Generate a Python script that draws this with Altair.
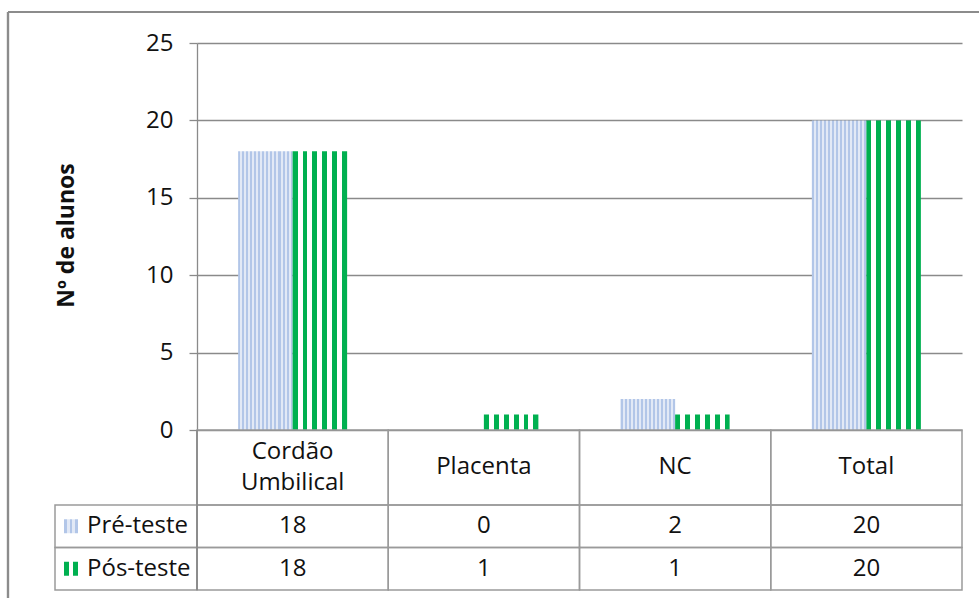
import altair as alt
import pandas as pd

categories = ["Cordão Umbilical", "Placenta", "NC", "Total"]
series = ["Pré-teste", "Pós-teste"]
pre_values = [18, 0, 2, 20]
post_values = [18, 1, 1, 20]
y_ticks = [0, 5, 10, 15, 20, 25]

rows = []
for c, a, b in zip(categories, pre_values, post_values):
    rows.append({"category": c, "series": series[0], "value": a})
    rows.append({"category": c, "series": series[1], "value": b})
df = pd.DataFrame(rows)
df_cat = pd.DataFrame({"category": categories})
df_ser = pd.DataFrame({"series": series})

FONT = "Open Sans"
FS = 24
TXT = "#111111"
GRID = "#8a8a8a"
TAB = "#9a9a9a"


def stripes(c1, c2, n):
    stops = []
    for i in range(n):
        c = c1 if i % 2 == 0 else c2
        stops.append({"offset": i / n, "color": c})
        stops.append({"offset": (i + 1) / n, "color": c})
    return {"gradient": "linear", "x1": 0, "y1": 0, "x2": 1, "y2": 0, "stops": stops}


pre_fill = stripes("#b2c6e8", "#e2e9f6", 27)
post_fill = stripes("#00b050", "#ffffff", 11)
pre_sym = stripes("#b2c6e8", "#e2e9f6", 5)
post_sym = stripes("#00b050", "#ffffff", 3)

x_bar = alt.X("category:N", sort=categories,
              scale=alt.Scale(domain=categories, paddingInner=0.43, paddingOuter=0.215),
              axis=None)
x_off = alt.XOffset("series:N", sort=series,
                    scale=alt.Scale(domain=series, paddingInner=0, paddingOuter=0))
y_bar = alt.Y("value:Q", scale=alt.Scale(domain=[0, 25], range=[387, 0], nice=False),
              axis=alt.Axis(values=y_ticks, grid=True, gridColor=GRID, gridWidth=1.3,
                            domainColor=GRID, domainWidth=1.3, tickColor=GRID, tickWidth=1.3,
                            tickSize=8, labelPadding=16, labelFont=FONT, labelFontSize=FS,
                            labelColor=TXT, title="Nº de alunos", titleFont=FONT,
                            titleFontSize=23, titleFontWeight="bold", titleColor=TXT,
                            titleAngle=270, titleAlign="center", titleBaseline="middle",
                            titleX=-131, titleY=192))

base = alt.Chart(df)
bars_pre = base.transform_filter(alt.datum.series == series[0]).mark_bar(fill=pre_fill).encode(
    x=x_bar, xOffset=x_off, y=y_bar)
bars_post = base.transform_filter(alt.datum.series == series[1]).mark_bar(fill=post_fill).encode(
    x=x_bar, xOffset=x_off,
    y=alt.Y("value:Q", scale=alt.Scale(domain=[0, 25], range=[387, 0], nice=False), axis=None))

x_tab = alt.X("category:N", sort=categories,
              scale=alt.Scale(domain=categories, paddingInner=0, paddingOuter=0), axis=None)
y_tab = alt.Y("series:N", sort=series,
              scale=alt.Scale(domain=series, range=[462, 547], paddingInner=0, paddingOuter=0),
              axis=None)

header_cells = alt.Chart(df_cat).mark_rect(fill="transparent", stroke=TAB, strokeWidth=1.5).encode(
    x=x_tab, y=alt.value(387), y2=alt.value(462))
header_text1 = alt.Chart(df_cat).transform_filter(
    "indexof(datum.category, ' ') < 0").mark_text(
    font=FONT, fontSize=FS, color=TXT, baseline="middle").encode(
    x=x_tab, y=alt.value(424), text="category:N")
header_text2 = alt.Chart(df_cat).transform_filter(
    "indexof(datum.category, ' ') >= 0").mark_text(
    font=FONT, fontSize=FS, color=TXT, lineBreak=" ", lineHeight=31, baseline="middle").encode(
    x=x_tab, y=alt.value(409), text="category:N")
value_cells = base.mark_rect(fill="transparent", stroke=TAB, strokeWidth=1.5).encode(
    x=x_tab, y=y_tab)
value_text = base.mark_text(font=FONT, fontSize=FS, color=TXT, baseline="middle").encode(
    x=x_tab, y=y_tab, text="value:Q")
legend_cells = alt.Chart(df_ser).mark_rect(fill="transparent", stroke=TAB, strokeWidth=1.5).encode(
    x=alt.value(-142), x2=alt.value(0), y=y_tab)
legend_text = alt.Chart(df_ser).mark_text(font=FONT, fontSize=FS, color=TXT, align="left",
                                          baseline="middle").encode(
    x=alt.value(-110), y=y_tab, text="series:N")
sym_pre = alt.Chart(df_ser).transform_filter(alt.datum.series == series[0]).mark_square(
    size=196, fill=pre_sym, opacity=1).encode(x=alt.value(-126), y=y_tab)
sym_post = alt.Chart(df_ser).transform_filter(alt.datum.series == series[1]).mark_square(
    size=196, fill=post_sym, opacity=1).encode(x=alt.value(-126), y=y_tab)
table_left = alt.Chart(df_ser).mark_rule(color=GRID, strokeWidth=1.3).encode(
    x=alt.value(0), y=alt.value(387), y2=alt.value(547))
border_left = alt.Chart(df_ser).mark_rule(color="#8c8c8c", strokeWidth=2.2).encode(
    x=alt.value(-189), y=alt.value(-31), y2=alt.value(600))
border_top = alt.Chart(df_ser).mark_rule(color="#8c8c8c", strokeWidth=2.2).encode(
    x=alt.value(-189), x2=alt.value(800), y=alt.value(-31))

chart = alt.layer(
    bars_pre, bars_post, header_cells, header_text1, header_text2, value_cells, value_text,
    legend_cells, legend_text, sym_pre, sym_post, table_left, border_left, border_top
).resolve_scale(x="independent", y="independent").properties(
    width=765, height=547,
    autosize=alt.AutoSizeParams(type="none"),
    padding={"left": 197, "top": 43, "right": 17, "bottom": 8},
    background="white",
).configure_view(stroke=None)

chart.save("out.html", embed_options={"renderer": "svg", "actions": False})
